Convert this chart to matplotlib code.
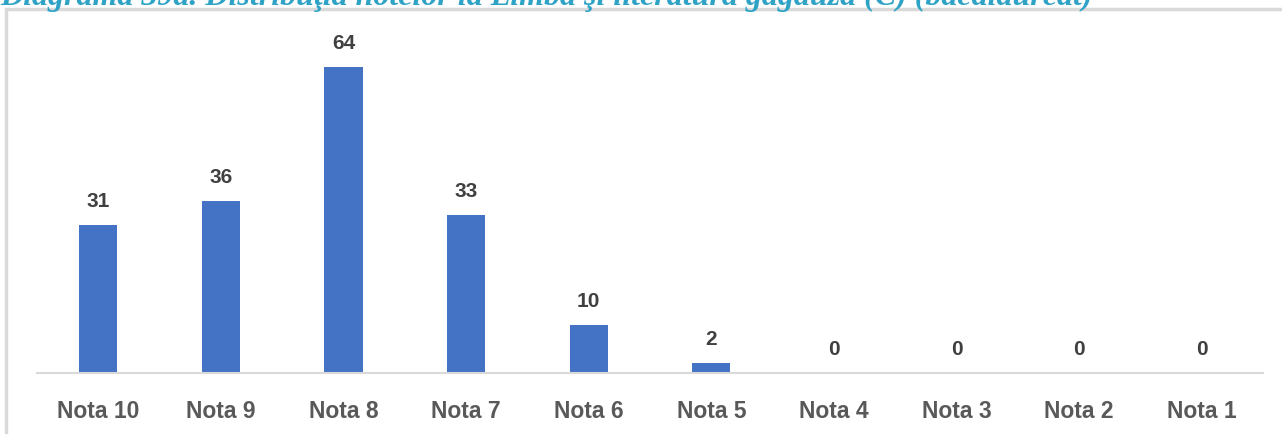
import matplotlib
matplotlib.use('Agg')
import matplotlib.pyplot as plt
from matplotlib.patches import Rectangle

categories = ['Nota 10', 'Nota 9', 'Nota 8', 'Nota 7', 'Nota 6',
              'Nota 5', 'Nota 4', 'Nota 3', 'Nota 2', 'Nota 1']
counts = [31, 36, 64, 33, 10, 2, 0, 0, 0, 0]
title = 'Diagrama 39a. Distribuţia notelor la Limba şi literatura găgăuză (C) (bacalaureat)'

W, H = 1282, 435
fig = plt.figure(figsize=(W / 100, H / 100), dpi=100)

# light grey frame around the chart area
fig.patches.append(Rectangle((6 / W, -0.1), 1.2, 1 - 10 / H + 0.1,
                             transform=fig.transFigure, fill=False,
                             edgecolor='#d9d9d9', linewidth=2.5))

ax = fig.add_axes([37 / W, (H - 374) / H, (1263 - 37) / W, (374 - 35) / H])
x = range(len(categories))
ax.bar(x, counts, width=0.31, color='#4472c4')
ax.set_xlim(-0.5, len(categories) - 0.5)
ax.set_ylim(0, 339 / 4.78)

for xi, v in zip(x, counts):
    ax.annotate(str(v), (xi, v), xytext=(0, 11), textcoords='offset points',
                ha='center', va='bottom', fontsize=15, fontweight='bold',
                color='#404040', family='Liberation Sans')

ax.set_xticks(list(x))
ax.set_xticklabels(categories, fontsize=16.5, fontweight='bold',
                   color='#595959', family='Liberation Sans')
ax.tick_params(axis='x', length=0, pad=19)
ax.set_yticks([])
for s in ['top', 'right', 'left']:
    ax.spines[s].set_visible(False)
ax.spines['bottom'].set_color('#d9d9d9')
ax.spines['bottom'].set_linewidth(1.5)

fig.text(0.0, 1 - 5 / H, title, ha='left', va='baseline',
         fontsize=23, fontweight='bold', fontstyle='italic',
         color='#2ea3c6', family='Liberation Serif')

fig.savefig('out.png', dpi=100)
